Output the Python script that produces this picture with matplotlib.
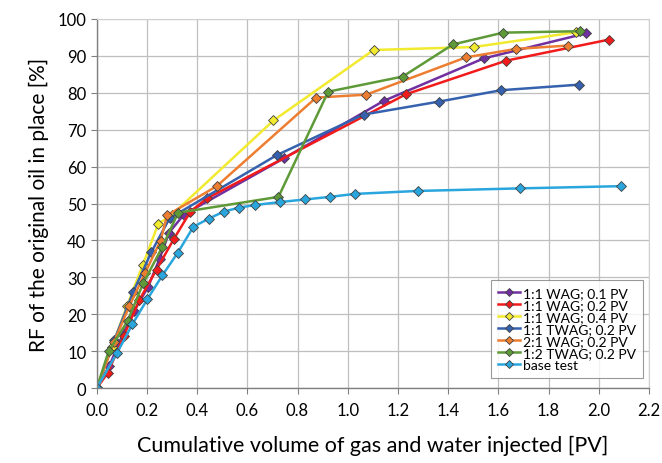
import matplotlib
matplotlib.use("Agg")
import matplotlib.pyplot as plt

plt.rcParams["font.family"] = ["Lato", "DejaVu Sans"]

labels = [
    "1:1 WAG; 0.1 PV",
    "1:1 WAG; 0.2 PV",
    "1:1 WAG; 0.4 PV",
    "1:1 TWAG; 0.2 PV",
    "2:1 WAG; 0.2 PV",
    "1:2 TWAG; 0.2 PV",
    "base test",
]
colors = ["#7030A0", "#F21B1B", "#F2EA2E", "#3561AE", "#ED7D31", "#5E9A38", "#2AA6DE"]

wag_01_x = [0, 0.05, 0.106, 0.15, 0.205, 0.25, 0.288, 0.347, 0.747, 1.143, 1.541, 1.949]
wag_01_y = [0, 6.0, 14.9, 21.0, 27.5, 35.0, 42.1, 47.0, 62.3, 77.8, 89.3, 96.1]

wag_02_x = [0, 0.043, 0.107, 0.17, 0.238, 0.308, 0.373, 0.439, 1.232, 1.631, 2.04]
wag_02_y = [0, 4.0, 14.0, 23.9, 32.1, 40.5, 47.8, 51.4, 79.6, 88.7, 94.4]

wag_04_x = [0, 0.06, 0.12, 0.183, 0.245, 0.30, 0.704, 1.103, 1.502, 1.908]
wag_04_y = [0, 11.0, 22.2, 33.3, 44.5, 47.0, 72.5, 91.6, 92.4, 96.4]

twag_02_x = [0, 0.07, 0.145, 0.218, 0.29, 0.717, 1.063, 1.362, 1.611, 1.92]
twag_02_y = [0, 13.0, 26.0, 36.9, 46.0, 63.1, 74.1, 77.6, 80.7, 82.2]

wag21_x = [0, 0.069, 0.129, 0.192, 0.254, 0.28, 0.478, 0.874, 1.074, 1.471, 1.671, 1.878]
wag21_y = [0, 12.5, 22.1, 31.1, 39.9, 46.8, 54.7, 78.7, 79.5, 89.6, 91.9, 92.8]

twag12_x = [0, 0.047, 0.123, 0.185, 0.261, 0.324, 0.724, 0.922, 1.219, 1.419, 1.619, 1.925]
twag12_y = [0, 9.9, 18.2, 28.4, 38.2, 47.5, 51.8, 80.3, 84.4, 93.1, 96.3, 96.7]

base_x = [0, 0.080, 0.142, 0.201, 0.261, 0.323, 0.385, 0.446, 0.506, 0.568, 0.632,
          0.731, 0.830, 0.929, 1.028, 1.278, 1.686, 2.087]
base_y = [0, 9.4, 17.3, 24.0, 30.5, 36.7, 43.7, 45.9, 47.8, 48.9, 49.6,
          50.4, 51.1, 51.8, 52.6, 53.4, 54.1, 54.7]

series = [
    (wag_01_x, wag_01_y),
    (wag_02_x, wag_02_y),
    (wag_04_x, wag_04_y),
    (twag_02_x, twag_02_y),
    (wag21_x, wag21_y),
    (twag12_x, twag12_y),
    (base_x, base_y),
]

fig = plt.figure(figsize=(6.62, 4.64), dpi=100)
ax = fig.add_axes([0.1462, 0.1616, 0.834, 0.7953])

for (x, y), lab, col in zip(series, labels, colors):
    ax.plot(x, y, color=col, lw=1.8, marker="D", markersize=5,
            markerfacecolor=col, markeredgecolor="#404040", markeredgewidth=0.6,
            label=lab)

ax.set_xlim(0, 2.2)
ax.set_ylim(0, 100)
ax.set_xticks([i * 0.2 for i in range(12)])
ax.set_xticklabels([f"{i * 0.2:.1f}" for i in range(12)])
ax.set_yticks(range(0, 101, 10))
ax.grid(True, color="#BFBFBF", lw=0.9)
ax.set_axisbelow(True)

for side in ["top", "right"]:
    ax.spines[side].set_color("#D0D0D0")
for side in ["left", "bottom"]:
    ax.spines[side].set_color("#808080")
    ax.spines[side].set_linewidth(1.0)
ax.tick_params(axis="both", length=4, color="#808080", labelsize=12, colors="#000000")
ax.tick_params(axis="x", pad=6)

ax.set_xlabel("Cumulative volume of gas and water injected [PV]", fontsize=15.5, labelpad=12)
ax.set_ylabel("RF of the original oil in place [%]", fontsize=15, labelpad=6)

leg = ax.legend(loc="lower right", bbox_to_anchor=(0.989, 0.027), fontsize=10,
                frameon=True, fancybox=False, edgecolor="#808080",
                handlelength=1.6, handletextpad=0.2, borderpad=0.5,
                borderaxespad=0.0, labelspacing=0.0, markerscale=0.8)
leg.get_frame().set_linewidth(0.8)

fig.savefig("out.png", dpi=100)
